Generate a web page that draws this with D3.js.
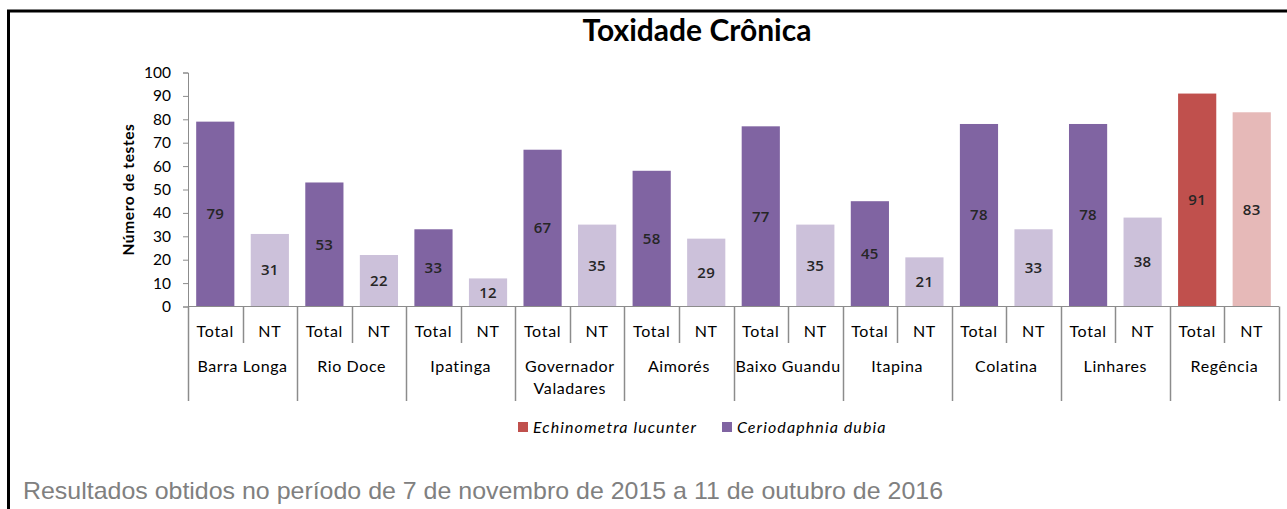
<!DOCTYPE html>
<html>
<head>
<meta charset="utf-8">
<script src="https://cdn.jsdelivr.net/npm/d3@7"></script>
<style>
  body { margin: 0; background: #fff; }
  svg { display: block; }
</style>
</head>
<body>
<div id="chart"></div>
<script>
// data
let groups = ["Barra Longa", "Rio Doce", "Ipatinga", "Governador Valadares", "Aimorés",
  "Baixo Guandu", "Itapina", "Colatina", "Linhares", "Regência"];
let groupLines = [["Barra Longa"], ["Rio Doce"], ["Ipatinga"], ["Governador", "Valadares"], ["Aimorés"],
  ["Baixo Guandu"], ["Itapina"], ["Colatina"], ["Linhares"], ["Regência"]];
let totalValues = [79, 53, 33, 67, 58, 77, 45, 78, 78, 91];
let ntValues = [31, 22, 12, 35, 29, 35, 21, 33, 38, 83];
let subLabels = ["Total", "NT"];
let groupSpecies = ["Ceriodaphnia dubia", "Ceriodaphnia dubia", "Ceriodaphnia dubia", "Ceriodaphnia dubia",
  "Ceriodaphnia dubia", "Ceriodaphnia dubia", "Ceriodaphnia dubia", "Ceriodaphnia dubia",
  "Ceriodaphnia dubia", "Echinometra lucunter"];
let legendSpecies = ["Echinometra lucunter", "Ceriodaphnia dubia"];
let yTicks = [0, 10, 20, 30, 40, 50, 60, 70, 80, 90, 100];

let width = 1287, height = 509;
let font = "Lato, 'Open Sans', sans-serif";

// colours per species: [Total, NT]
let colorTotal = d3.scaleOrdinal().domain(legendSpecies).range(["#c0504d", "#8064a2"]);
let colorNT = d3.scaleOrdinal().domain(legendSpecies).range(["#e6b9b8", "#ccc1da"]);

let svg = d3.select("#chart").append("svg")
  .attr("width", width)
  .attr("height", height);

// frame (top and left edges visible)
svg.append("path")
  .attr("d", "M8.5,509 V11 H1287")
  .attr("fill", "none")
  .attr("stroke", "#000")
  .attr("stroke-width", 3);

let x0 = d3.scaleBand().domain(groups).range([188, 1279]);
let x1 = d3.scaleBand().domain(subLabels).range([0, x0.bandwidth()])
  .paddingInner(0.3).paddingOuter(0.15);
let y = d3.scaleLinear().domain([0, 100]).range([306.5, 72.5]);

// title
svg.append("text")
  .attr("x", 697).attr("y", 41)
  .attr("text-anchor", "middle")
  .attr("font-family", font)
  .attr("font-weight", "bold")
  .attr("font-size", 30)
  .attr("fill", "#000")
  .text("Toxidade Crônica");

// y axis
let yAxis = svg.append("g")
  .attr("transform", "translate(188,0)")
  .call(d3.axisLeft(y).tickValues(yTicks).tickSize(5).tickPadding(12));
yAxis.select(".domain").attr("stroke", "#8c8c8c");
yAxis.selectAll(".tick line").attr("stroke", "#8c8c8c");
yAxis.selectAll(".tick text")
  .attr("font-family", font)
  .attr("font-size", 15.5)
  .attr("fill", "#000");

svg.append("text")
  .attr("transform", "translate(134," + y(50) + ") rotate(-90)")
  .attr("text-anchor", "middle")
  .attr("font-family", font)
  .attr("font-weight", "bold")
  .attr("font-size", 15.5)
  .attr("letter-spacing", 0.6)
  .attr("fill", "#000")
  .text("Número de testes");

// rows for bars
let rows = [];
groups.forEach(function(g, i) {
  rows.push({ group: g, sub: "Total", value: totalValues[i], species: groupSpecies[i] });
  rows.push({ group: g, sub: "NT", value: ntValues[i], species: groupSpecies[i] });
});

let bars = svg.append("g");
bars.selectAll("rect")
  .data(rows)
  .join("rect")
  .attr("x", d => x0(d.group) + x1(d.sub))
  .attr("y", d => y(d.value))
  .attr("width", x1.bandwidth())
  .attr("height", d => y(0) - y(d.value))
  .attr("fill", d => d.sub === "Total" ? colorTotal(d.species) : colorNT(d.species));

// value labels, centred in each bar
bars.selectAll("text")
  .data(rows)
  .join("text")
  .attr("x", d => x0(d.group) + x1(d.sub) + x1.bandwidth() / 2)
  .attr("y", d => y(d.value / 2))
  .attr("dy", "0.35em")
  .attr("text-anchor", "middle")
  .attr("font-family", "'Open Sans', Lato, sans-serif")
  .attr("font-weight", 600)
  .attr("font-size", 15)
  .attr("letter-spacing", 0.3)
  .attr("fill", "#262626")
  .text(d => d.value);

// x axis: baseline, dividers and two label rows
let axisColor = "#8c8c8c";
let xa = svg.append("g");
xa.append("line")
  .attr("x1", x0.range()[0]).attr("x2", x0.range()[1])
  .attr("y1", y(0)).attr("y2", y(0))
  .attr("stroke", axisColor);

// group dividers
xa.selectAll(".gdiv")
  .data(groups.concat(["end"]))
  .join("line")
  .attr("class", "gdiv")
  .attr("x1", (d, i) => Math.round(x0.range()[0] + i * x0.bandwidth()) + 0.5)
  .attr("x2", (d, i) => Math.round(x0.range()[0] + i * x0.bandwidth()) + 0.5)
  .attr("y1", y(0)).attr("y2", 401)
  .attr("stroke", axisColor)
  .attr("stroke-width", 1.5);

// sub-category dividers
xa.selectAll(".sdiv")
  .data(groups)
  .join("line")
  .attr("class", "sdiv")
  .attr("x1", d => Math.round(x0(d) + x0.bandwidth() / 2) + 0.5)
  .attr("x2", d => Math.round(x0(d) + x0.bandwidth() / 2) + 0.5)
  .attr("y1", y(0)).attr("y2", 343)
  .attr("stroke", axisColor)
  .attr("stroke-width", 1.5);

xa.selectAll(".sublab")
  .data(rows)
  .join("text")
  .attr("class", "sublab")
  .attr("x", d => x0(d.group) + x1(d.sub) + x1.bandwidth() / 2)
  .attr("y", 337)
  .attr("text-anchor", "middle")
  .attr("font-family", font)
  .attr("font-size", 16)
  .attr("letter-spacing", 0.7)
  .attr("fill", "#000")
  .text(d => d.sub);

let glab = xa.selectAll(".glab")
  .data(groups)
  .join("text")
  .attr("class", "glab")
  .attr("x", d => x0(d) + x0.bandwidth() / 2)
  .attr("y", 372)
  .attr("text-anchor", "middle")
  .attr("font-family", font)
  .attr("font-size", 16)
  .attr("letter-spacing", 0.6)
  .attr("fill", "#000");
glab.selectAll("tspan")
  .data((d, i) => groupLines[i])
  .join("tspan")
  .attr("x", function() { return d3.select(this.parentNode).attr("x"); })
  .attr("dy", (d, i) => i === 0 ? 0 : 22)
  .text(d => d);

// legend
let legendX = [518, 722];
let legend = svg.append("g");
legendSpecies.forEach(function(s, i) {
  legend.append("rect")
    .attr("x", legendX[i]).attr("y", 422)
    .attr("width", 10).attr("height", 10)
    .attr("fill", colorTotal(s));
  legend.append("text")
    .attr("x", legendX[i] + 15).attr("y", 433)
    .attr("font-family", font)
    .attr("font-style", "italic")
    .attr("font-size", 16)
    .attr("letter-spacing", 1.1)
    .attr("fill", "#000")
    .text(s);
});

// caption
svg.append("text")
  .attr("x", 23).attr("y", 499)
  .attr("font-family", "'Liberation Sans', Arial, sans-serif")
  .attr("font-size", 24)
  .attr("fill", "#808080")
  .attr("textLength", 920)
  .attr("lengthAdjust", "spacingAndGlyphs")
  .text("Resultados obtidos no período de 7 de novembro de 2015 a 11 de outubro de 2016");
</script>
</body>
</html>
